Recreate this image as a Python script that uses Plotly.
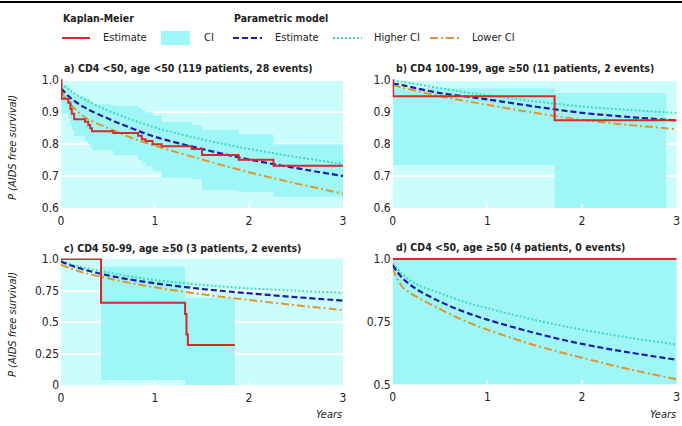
import plotly.graph_objects as go

W, H = 682, 426
FONT = "DejaVu Sans Condensed, Liberation Sans Narrow, Arial Narrow, sans-serif"

# ---------------- data ----------------
# common time grid for parametric model curves (years)
param_t = [0, 0.1, 0.25, 0.5, 0.75, 1, 1.5, 2, 2.5, 3]

# Panel a) CD4 <50, age <50
a_km_t = [0, 0.005, 0.078, 0.1, 0.115, 0.14, 0.255, 0.29, 0.31, 0.33, 0.556, 0.82, 0.86, 0.9, 0.975, 1.07, 1.39, 1.5, 1.89, 2.26, 3.0]
a_km_s = [1.0, 0.942, 0.93, 0.91, 0.895, 0.878, 0.87, 0.86, 0.85, 0.84, 0.835, 0.826, 0.815, 0.81, 0.80, 0.793, 0.785, 0.766, 0.751, 0.732, 0.732]
a_ci_hi = [1.0, 0.985, 0.98, 0.97, 0.96, 0.95, 0.945, 0.94, 0.935, 0.925, 0.92, 0.915, 0.905, 0.90, 0.89, 0.87, 0.86, 0.845, 0.83, 0.80, 0.80]
a_ci_lo = [1.0, 0.895, 0.88, 0.86, 0.845, 0.825, 0.81, 0.80, 0.79, 0.78, 0.765, 0.75, 0.74, 0.73, 0.715, 0.695, 0.69, 0.655, 0.65, 0.635, 0.635]
a_est = [0.975, 0.945, 0.915, 0.88, 0.85, 0.823, 0.785, 0.752, 0.725, 0.70]
a_hi = [0.99, 0.967, 0.94, 0.905, 0.877, 0.852, 0.815, 0.785, 0.76, 0.738]
a_lo = [0.965, 0.925, 0.885, 0.85, 0.82, 0.795, 0.752, 0.712, 0.677, 0.645]

# Panel b) CD4 100-199, age >=50
b_km_t = [0, 0.005, 1.71, 3.0]
b_km_s = [1.0, 0.95, 0.875, 0.875]
b_ci_t = [0, 0.005, 1.71, 2.89]
b_ci_hi = [1.0, 0.975, 0.96, 0.96]
b_ci_lo = [1.0, 0.735, 0.55, 0.55]
b_est = [0.99, 0.985, 0.975, 0.96, 0.95, 0.94, 0.918, 0.898, 0.885, 0.874]
b_hi = [1.0, 0.995, 0.988, 0.975, 0.963, 0.953, 0.934, 0.918, 0.907, 0.898]
b_lo = [0.985, 0.977, 0.967, 0.95, 0.936, 0.923, 0.898, 0.876, 0.86, 0.847]

# Panel c) CD4 50-99, age >=50
c_km_t = [0, 0.426, 1.32, 1.335, 1.35, 1.85]
c_km_s = [1.0, 0.653, 0.563, 0.40, 0.317, 0.317]
c_ci_t = [0, 0.426, 1.32, 1.85]
c_ci_hi = [1.0, 0.94, 0.69, 0.69]
c_ci_lo = [1.0, 0.04, 0.0, 0.0]
c_est = [0.98, 0.95, 0.915, 0.87, 0.835, 0.807, 0.762, 0.728, 0.697, 0.67]
c_hi = [0.985, 0.96, 0.93, 0.893, 0.86, 0.833, 0.795, 0.767, 0.748, 0.733]
c_lo = [0.955, 0.925, 0.89, 0.847, 0.807, 0.775, 0.72, 0.675, 0.633, 0.595]

# Panel d) CD4 <50, age >=50
d_km_t = [0, 3.0]
d_km_s = [1.0, 1.0]
d_ci_t = [0, 3.0]
d_ci_hi = [1.0, 1.0]
d_ci_lo = [0.45, 0.45]
d_est = [0.976, 0.925, 0.88, 0.83, 0.79, 0.758, 0.705, 0.661, 0.627, 0.598]
d_hi = [0.983, 0.94, 0.90, 0.864, 0.83, 0.804, 0.757, 0.718, 0.686, 0.659]
d_lo = [0.963, 0.89, 0.85, 0.80, 0.755, 0.718, 0.656, 0.606, 0.56, 0.52]

titles = [
    "a) CD4 <50, age <50 (119 patients, 28 events)",
    "b) CD4 100-199, age \u226550 (11 patients, 2 events)",
    "c) CD4 50-99, age \u226550 (3 patients, 2 events)",
    "d) CD4 <50, age \u226550 (4 patients, 0 events)",
]
y_ticks = [
    ([0.6, 0.7, 0.8, 0.9, 1.0], ["0.6", "0.7", "0.8", "0.9", "1.0"]),
    ([0.6, 0.7, 0.8, 0.9, 1.0], ["0.6", "0.7", "0.8", "0.9", "1.0"]),
    ([0, 0.25, 0.5, 0.75, 1.0], ["0", "0.25", "0.5", "0.75", "1.0"]),
    ([0.5, 0.75, 1.0], ["0.5", "0.75", "1.0"]),
]
x_ticks = [0, 1, 2, 3]
x_labels = ["0", "1", "2", "3"]

# ---------------- styling ----------------
BG = "#ccfdfd"
CI = "#9ef6f6"
RED = "#d42a2a"
BLUE = "#1c1cab"
GREEN = "#3ddcb2"
ORANGE = "#e0962e"
TXT = "#222222"
FS = 11        # legend text
BFS = 10.5     # bold titles
TFS = 12       # tick labels
DASH = "6px,3px"
DOT = "2px,2px"
DASHDOT = "8px,3px,2px,3px"

# pixel boxes for each panel: (left, right, top, bottom) and y range
boxes = [
    (61, 343, 79.0, 208.0, [0.6, 1.004]),
    (392.7, 676.7, 79.0, 208.0, [0.6, 1.004]),
    (61, 343, 258.5, 385.0, [0.0, 1.004]),
    (392.7, 676.7, 258.0, 384.3, [0.5, 1.004]),
]

panels = [
    (a_km_t, a_km_s, a_km_t, a_ci_hi, a_ci_lo, a_est, a_hi, a_lo),
    (b_km_t, b_km_s, b_ci_t, b_ci_hi, b_ci_lo, b_est, b_hi, b_lo),
    (c_km_t, c_km_s, c_ci_t, c_ci_hi, c_ci_lo, c_est, c_hi, c_lo),
    (d_km_t, d_km_s, d_ci_t, d_ci_hi, d_ci_lo, d_est, d_hi, d_lo),
]

fig = go.Figure()
layout_axes = {}
annotations = []
shapes = []

for i, (km_t, km_s, ci_t, ci_hi, ci_lo, est, hi, lo) in enumerate(panels):
    n = "" if i == 0 else str(i + 1)
    xa, ya = "x" + n, "y" + n
    # CI band
    fig.add_trace(go.Scatter(x=ci_t, y=ci_lo, xaxis=xa, yaxis=ya, mode="lines",
                             line=dict(width=0, shape="hv", color=CI), showlegend=False, hoverinfo="skip"))
    fig.add_trace(go.Scatter(x=ci_t, y=ci_hi, xaxis=xa, yaxis=ya, mode="lines", fill="tonexty",
                             fillcolor=CI, line=dict(width=0, shape="hv", color=CI), showlegend=False, hoverinfo="skip"))
    # parametric curves
    fig.add_trace(go.Scatter(x=param_t, y=hi, xaxis=xa, yaxis=ya, mode="lines",
                             line=dict(color=GREEN, width=2, dash=DOT, shape="spline"), showlegend=False))
    fig.add_trace(go.Scatter(x=param_t, y=lo, xaxis=xa, yaxis=ya, mode="lines",
                             line=dict(color=ORANGE, width=2, dash=DASHDOT, shape="spline"), showlegend=False))
    fig.add_trace(go.Scatter(x=param_t, y=est, xaxis=xa, yaxis=ya, mode="lines",
                             line=dict(color=BLUE, width=2.2, dash=DASH, shape="spline"), showlegend=False))
    # Kaplan-Meier
    fig.add_trace(go.Scatter(x=km_t, y=km_s, xaxis=xa, yaxis=ya, mode="lines",
                             line=dict(color=RED, width=2, shape="hv"), showlegend=False))

    l, r, t, b, yr = boxes[i]
    tv, tt = y_ticks[i]
    layout_axes["xaxis" + n] = dict(
        domain=[l / W, r / W], range=[0, 3], anchor=ya, tickvals=x_ticks, ticktext=x_labels,
        showgrid=False, zeroline=False, showline=False, ticks="inside", ticklen=4, tickwidth=1.5,
        tickcolor="white", tickfont=dict(family=FONT, size=TFS, color=TXT), fixedrange=True,
        automargin=False, ticklabelstandoff=4)
    layout_axes["yaxis" + n] = dict(
        domain=[1 - b / H, 1 - t / H], range=yr, anchor=xa, tickvals=tv, ticktext=tt,
        showgrid=True, gridcolor="white", gridwidth=1.5, zeroline=False, showline=False,
        ticks="", tickfont=dict(family=FONT, size=TFS, color=TXT), fixedrange=True,
        automargin=False, ticklabelstandoff=1)
    # plot background
    shapes.append(dict(type="rect", xref=xa + " domain", yref=ya + " domain", x0=0, x1=1, y0=0, y1=1,
                       fillcolor=BG, line=dict(width=0), layer="below"))
    # panel title
    annotations.append(dict(text="<b>" + titles[i].replace("<", "&lt;") + "</b>", xref="paper", yref="paper",
                            x=(l + 1) / W, y=1 - (t - 11) / H, xanchor="left", yanchor="middle", showarrow=False,
                            font=dict(family=FONT, size=BFS, color=TXT)))

# y-axis titles and "Years"
for yc in (148, 325):
    annotations.append(dict(text="<i>P (AIDS free survival)</i>", xref="paper", yref="paper",
                            x=12 / W, y=1 - yc / H, textangle=-90, showarrow=False,
                            xanchor="center", yanchor="middle", font=dict(family=FONT, size=FS, color=TXT)))
for xr in (344, 678):
    annotations.append(dict(text="<i>Years</i>", xref="paper", yref="paper", x=xr / W, y=1 - 414 / H,
                            xanchor="right", yanchor="middle", showarrow=False,
                            font=dict(family=FONT, size=FS, color=TXT)))

# ---------------- legend (drawn manually) ----------------
def P(x, y):
    return x / W, 1 - y / H

ly = 38
annotations.append(dict(text="<b>Kaplan-Meier</b>", xref="paper", yref="paper", x=P(61, 0)[0], y=P(0, 18)[1],
                        xanchor="left", yanchor="middle", showarrow=False, font=dict(family=FONT, size=BFS, color=TXT)))
annotations.append(dict(text="<b>Parametric model</b>", xref="paper", yref="paper", x=P(232, 0)[0], y=P(0, 18)[1],
                        xanchor="left", yanchor="middle", showarrow=False, font=dict(family=FONT, size=BFS, color=TXT)))
legend_items = [
    ("line", RED, "solid", 62, 90, "Estimate", 101),
    ("box", CI, None, 161, 190, "CI", 202),
    ("line", BLUE, DASH, 233, 262, "Estimate", 273),
    ("line", GREEN, DOT, 333, 362, "Higher CI", 372),
    ("line", ORANGE, DASHDOT, 430, 459, "Lower CI", 470),
]
for kind, col, dash, x0, x1, label, xt in legend_items:
    if kind == "line":
        shapes.append(dict(type="line", xref="paper", yref="paper", x0=P(x0, 0)[0], x1=P(x1, 0)[0],
                           y0=P(0, ly)[1], y1=P(0, ly)[1], line=dict(color=col, width=2, dash=dash)))
    else:
        shapes.append(dict(type="rect", xref="paper", yref="paper", x0=P(x0, 0)[0], x1=P(x1, 0)[0],
                           y0=P(0, ly + 7)[1], y1=P(0, ly - 7)[1], fillcolor=col, line=dict(width=0)))
    annotations.append(dict(text=label, xref="paper", yref="paper", x=P(xt, 0)[0], y=P(0, ly)[1],
                            xanchor="left", yanchor="middle", showarrow=False,
                            font=dict(family=FONT, size=FS, color=TXT)))

# top rule
shapes.append(dict(type="line", xref="paper", yref="paper", x0=0, x1=1, y0=P(0, 2)[1], y1=P(0, 2)[1],
                   line=dict(color="black", width=2)))

fig.update_layout(
    width=W, height=H, margin=dict(l=0, r=0, t=0, b=0, pad=0), autosize=False,
    paper_bgcolor="white", plot_bgcolor="rgba(0,0,0,0)",
    showlegend=False, annotations=annotations, shapes=shapes,
    font=dict(family=FONT, size=FS, color=TXT),
    **layout_axes,
)
fig.write_html("out.html", config={"displayModeBar": False},
               post_script="document.body.style.margin='0';document.body.style.padding='0';")
